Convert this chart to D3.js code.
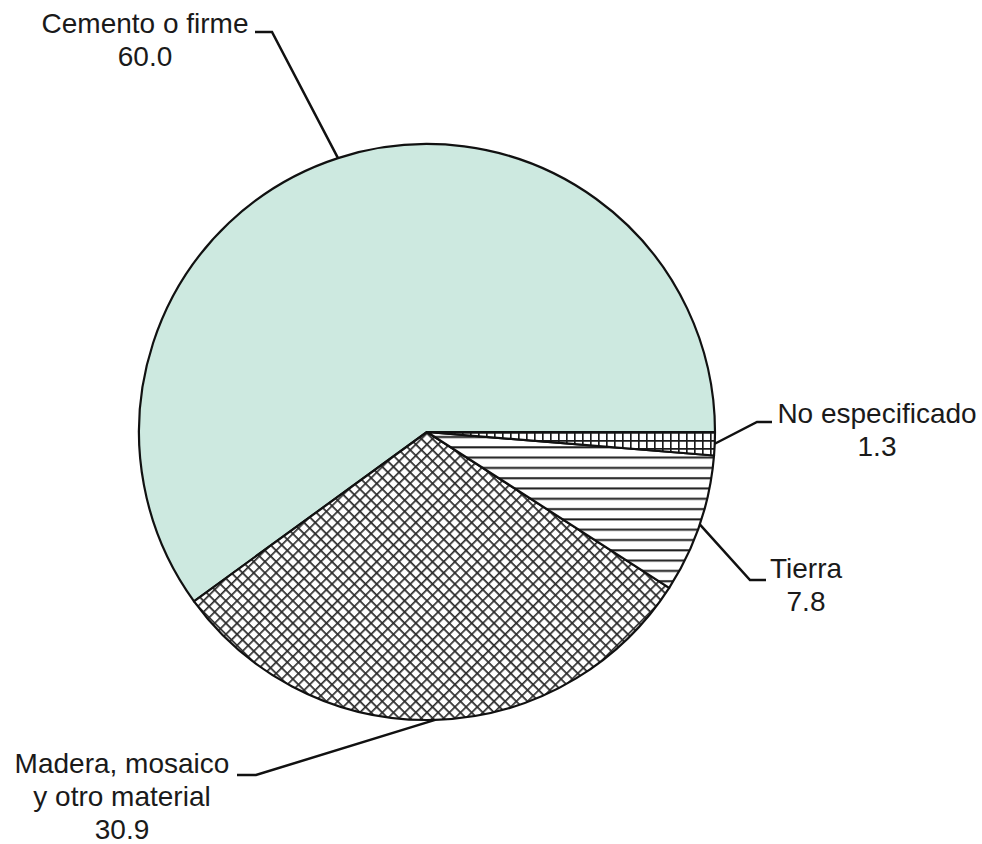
<!DOCTYPE html>
<html>
<head>
<meta charset="utf-8">
<script src="https://cdn.jsdelivr.net/npm/d3@7"></script>
<style>
  html, body { margin: 0; padding: 0; background: #fff; }
  svg { display: block; }
  text { font-family: "Liberation Sans", Arial, sans-serif; fill: #1a1a1a; }
</style>
</head>
<body>
<svg id="chart" width="982" height="844"></svg>
<script>
// ---- data ----
const categories = ["Cemento o firme", "Madera, mosaico y otro material", "Tierra", "No especificado"];
const labelLines = [["Cemento o firme"], ["Madera, mosaico", "y otro material"], ["Tierra"], ["No especificado"]];
const values = [60.0, 30.9, 7.8, 1.3];
const valueLabels = ["60.0", "30.9", "7.8", "1.3"];

// ---- layout ----
const W = 982, H = 844;
const cx = 427, cy = 432, R = 288;
const fontSize = 28, lineH = 33;
const labelLayout = [
  { tx: 145, ty: 33, hx0: 255, hx1: 272, hy: 32 },
  { tx: 122, ty: 773, hx0: 237, hx1: 256, hy: 775 },
  { tx: 806, ty: 578, hx0: 766, hx1: 750, hy: 580 },
  { tx: 877, ty: 423, hx0: 772, hx1: 757, hy: 422 }
];

const svg = d3.select("#chart");
const defs = svg.append("defs");

// crosshatch (diagonal)
const cs = 7.9;
const p1 = defs.append("pattern").attr("id", "pat-cross").attr("patternUnits", "userSpaceOnUse")
  .attr("width", cs).attr("height", cs).attr("patternTransform", "rotate(45)");
p1.append("rect").attr("width", cs).attr("height", cs).attr("fill", "#fff");
p1.append("path").attr("d", `M0,0.8 H${cs} M0.8,0 V${cs}`).attr("stroke", "#2a2a2a").attr("stroke-width", 1.7);

// horizontal lines
const p2 = defs.append("pattern").attr("id", "pat-horiz").attr("patternUnits", "userSpaceOnUse")
  .attr("width", 10).attr("height", 10.3);
p2.append("rect").attr("width", 10).attr("height", 10.3).attr("fill", "#fff");
p2.append("path").attr("d", "M0,5 H10").attr("stroke", "#1a1a1a").attr("stroke-width", 2);

// small square grid
const gs = 8;
const p3 = defs.append("pattern").attr("id", "pat-grid").attr("patternUnits", "userSpaceOnUse")
  .attr("width", gs).attr("height", gs).attr("x", cx).attr("y", cy);
p3.append("rect").attr("width", gs).attr("height", gs).attr("fill", "#fff");
p3.append("path").attr("d", `M0,0.8 H${gs} M0.8,0 V${gs}`).attr("stroke", "#1a1a1a").attr("stroke-width", 1.7);

const fills = ["#cde9e0", "url(#pat-cross)", "url(#pat-horiz)", "url(#pat-grid)"];

const pie = d3.pie().sort(null).value(d => d)
  .startAngle(Math.PI / 2).endAngle(Math.PI / 2 - 2 * Math.PI);
const arcs = pie(values);
const arc = d3.arc().innerRadius(0).outerRadius(R);

const g = svg.append("g").attr("transform", `translate(${cx},${cy})`);
g.selectAll("path.slice").data(arcs).enter().append("path")
  .attr("class", "slice")
  .attr("d", arc)
  .attr("fill", (d, i) => fills[i])
  .attr("stroke", "#111")
  .attr("stroke-width", 2.2)
  .attr("stroke-linejoin", "round");

// leader lines and labels
arcs.forEach((a, i) => {
  const L = labelLayout[i];
  const mid = (a.startAngle + a.endAngle) / 2;
  const ex = cx + R * Math.sin(mid), ey = cy - R * Math.cos(mid);
  svg.append("path")
    .attr("d", `M${L.hx0},${L.hy} H${L.hx1} L${ex},${ey}`)
    .attr("fill", "none").attr("stroke", "#111").attr("stroke-width", 2.5);
  const t = svg.append("text").attr("text-anchor", "middle")
    .attr("font-size", fontSize);
  const lines = labelLines[i].concat([valueLabels[i]]);
  lines.forEach((s, k) => {
    t.append("tspan").attr("x", L.tx).attr("y", L.ty + k * lineH).text(s);
  });
});
</script>
</body>
</html>
